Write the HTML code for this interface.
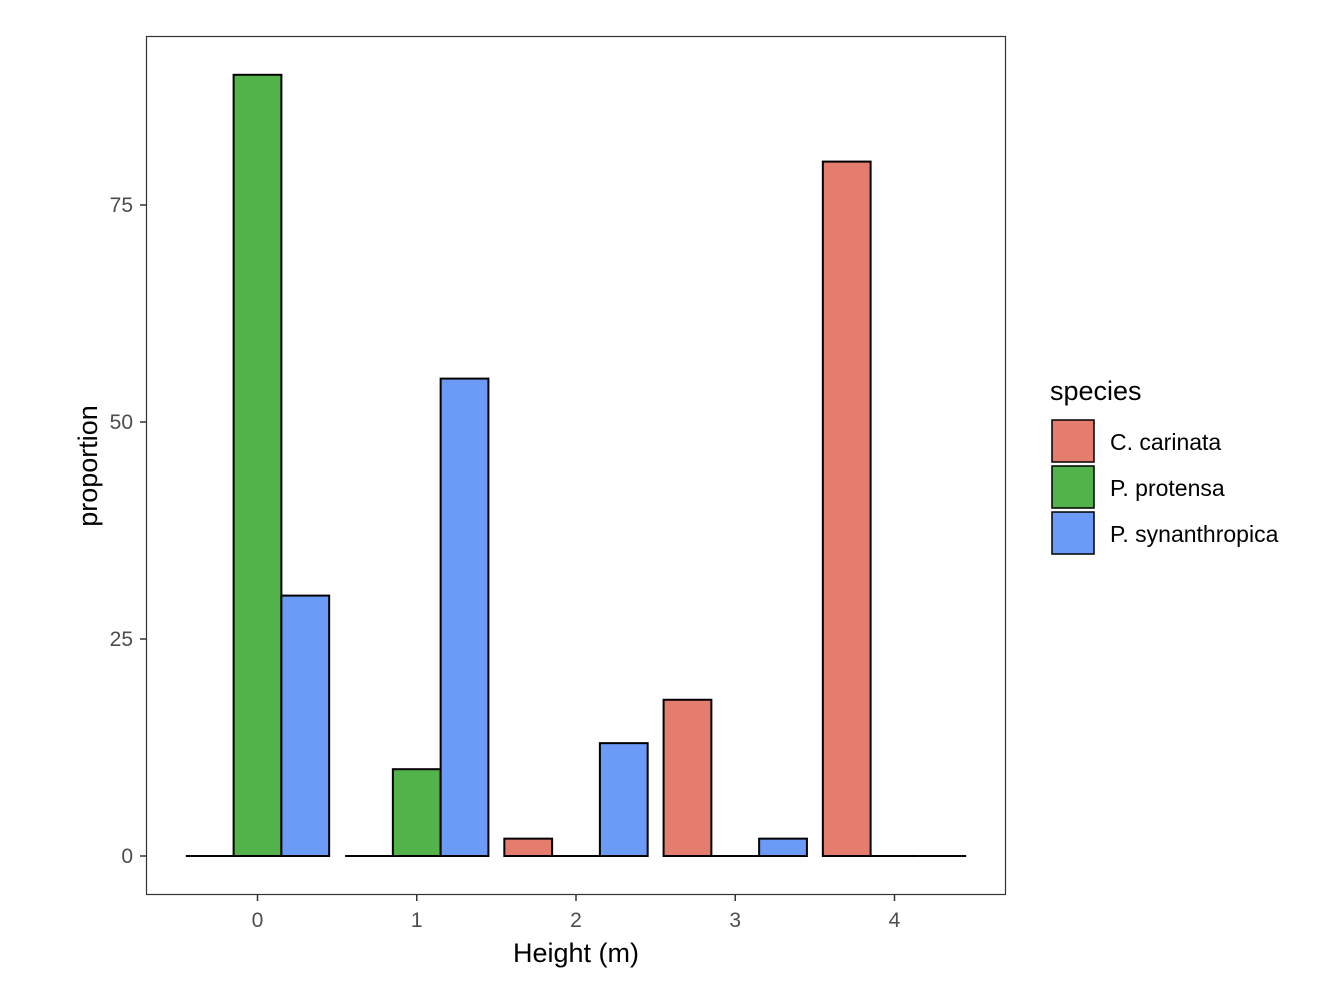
<!DOCTYPE html>
<html><head><meta charset="utf-8"><style>
body{margin:0;background:#fff;}
svg text{font-family:"Liberation Sans",Arial,sans-serif;}
</style></head><body>
<svg width="1324" height="978" viewBox="0 0 1324 978" xmlns="http://www.w3.org/2000/svg">
<rect x="0" y="0" width="1324" height="978" fill="#fff"/>
<g id="bars"></g>
<rect x="146.5" y="36.5" width="859" height="858" fill="none" stroke="#333" stroke-width="1.2"/>
<g id="axes"></g>
<text x="576" y="962" font-size="27" text-anchor="middle" fill="#000">Height (m)</text>
<text transform="translate(97,466) rotate(-90)" font-size="27" text-anchor="middle" fill="#000">proportion</text>
<g>
<text x="1050" y="400" font-size="27" fill="#000">species</text>
<g id="legend"></g>
</g>
</svg>
<script>
const categories = [0, 1, 2, 3, 4];
const species = ["C. carinata", "P. protensa", "P. synanthropica"];
const carinata = [0, 0, 2, 18, 80];
const protensa = [90, 10, 0, 0, 0];
const synanthropica = [30, 55, 13, 2, 0];
const yTicks = [0, 25, 50, 75];
const colors = ["#E57D6F", "#53B34B", "#6B9BF7"];
const series = [carinata, protensa, synanthropica];
const NS = "http://www.w3.org/2000/svg";
const xs = v => 257.5 + v * 159.25;
const ys = v => 856 - v * 8.68;
const bw = 0.3 * 159.25;
const bars = document.getElementById('bars');
categories.forEach((c, i) => {
  series.forEach((s, j) => {
    const x0 = xs(c) + (j - 1.5) * bw;
    const h = ys(0) - ys(s[i]);
    if (h > 0.5) {
      const r = document.createElementNS(NS, 'rect');
      r.setAttribute('x', x0); r.setAttribute('width', bw);
      r.setAttribute('y', ys(s[i])); r.setAttribute('height', h);
      r.setAttribute('fill', colors[j]); r.setAttribute('stroke', '#000'); r.setAttribute('stroke-width', '2');
      
      
      bars.appendChild(r);
    } else {
      const l = document.createElementNS(NS, 'line');
      l.setAttribute('x1', x0); l.setAttribute('x2', x0 + bw);
      l.setAttribute('y1', ys(s[i])); l.setAttribute('y2', ys(s[i]));
      l.setAttribute('stroke', '#000'); l.setAttribute('stroke-width', '2');
      
      
      bars.appendChild(l);
    }
  });
});
const axes = document.getElementById('axes');
yTicks.forEach(t => {
  const l = document.createElementNS(NS, 'line');
  l.setAttribute('x1', 140); l.setAttribute('x2', 146); l.setAttribute('y1', ys(t)); l.setAttribute('y2', ys(t));
  l.setAttribute('stroke', '#333'); l.setAttribute('stroke-width', '1.5');
  
  
  axes.appendChild(l);
  const tx = document.createElementNS(NS, 'text');
  tx.setAttribute('x', 133); tx.setAttribute('y', ys(t) + 7); tx.setAttribute('font-size', '21');
  tx.setAttribute('text-anchor', 'end'); tx.setAttribute('fill', '#4d4d4d'); tx.textContent = t;
  
  
  axes.appendChild(tx);
});
categories.forEach(c => {
  const l = document.createElementNS(NS, 'line');
  l.setAttribute('x1', xs(c)); l.setAttribute('x2', xs(c)); l.setAttribute('y1', 895); l.setAttribute('y2', 901);
  l.setAttribute('stroke', '#333'); l.setAttribute('stroke-width', '1.5');
  
  
  axes.appendChild(l);
  const tx = document.createElementNS(NS, 'text');
  tx.setAttribute('x', xs(c)); tx.setAttribute('y', 927); tx.setAttribute('font-size', '21');
  tx.setAttribute('text-anchor', 'middle'); tx.setAttribute('fill', '#4d4d4d'); tx.textContent = c;
  
  
  axes.appendChild(tx);
});
const leg = document.getElementById('legend');
species.forEach((s, j) => {
  const y = 420 + j * 46;
  const r = document.createElementNS(NS, 'rect');
  r.setAttribute('x', 1052); r.setAttribute('y', y); r.setAttribute('width', 42); r.setAttribute('height', 42);
  r.setAttribute('fill', colors[j]); r.setAttribute('stroke', '#000'); r.setAttribute('stroke-width', '1.5');
  
  
  leg.appendChild(r);
  const t = document.createElementNS(NS, 'text');
  t.setAttribute('x', 1110); t.setAttribute('y', y + 30); t.setAttribute('font-size', '23'); t.setAttribute('fill', '#000');
  t.textContent = s;
  
  
  leg.appendChild(t);
});
</script>
</body></html>
